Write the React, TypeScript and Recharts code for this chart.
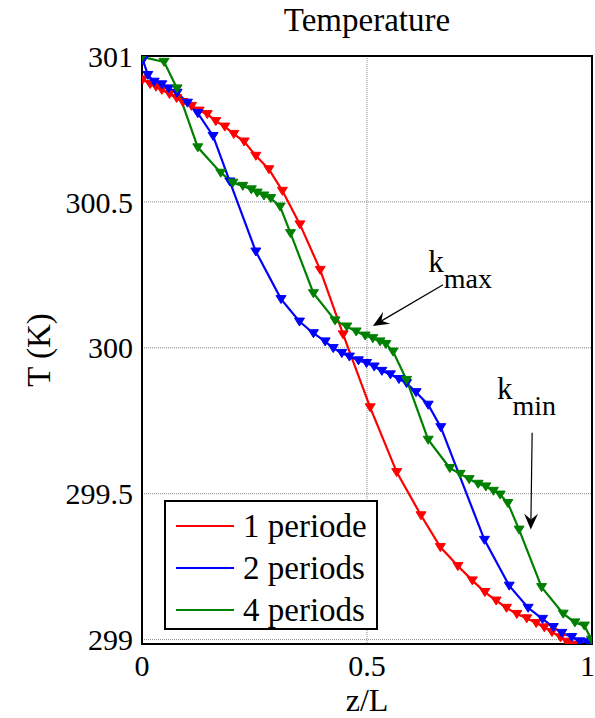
import React from 'react';
import {
  LineChart, Line, XAxis, YAxis, CartesianGrid, Legend,
  ReferenceLine, ReferenceDot, ReferenceArea,
} from 'recharts';

// positions along the channel (z/L) and temperatures (K)
const redZ = [0.002, 0.018, 0.031, 0.044, 0.061, 0.077, 0.091, 0.110, 0.127, 0.145, 0.164, 0.184, 0.204, 0.227, 0.253, 0.282, 0.312, 0.351, 0.396, 0.447, 0.507, 0.566, 0.620, 0.663, 0.702, 0.734, 0.762, 0.787, 0.810, 0.833, 0.855, 0.876, 0.894, 0.911, 0.930, 0.944, 0.958];
const redT = [300.920, 300.904, 300.895, 300.884, 300.870, 300.856, 300.842, 300.829, 300.813, 300.801, 300.777, 300.758, 300.733, 300.707, 300.658, 300.612, 300.538, 300.423, 300.267, 300.046, 299.796, 299.574, 299.426, 299.317, 299.252, 299.203, 299.163, 299.134, 299.109, 299.088, 299.073, 299.057, 299.042, 299.026, 299.008, 298.993, 298.983];

const blueZ = [0.002, 0.013, 0.027, 0.044, 0.059, 0.078, 0.101, 0.124, 0.158, 0.195, 0.253, 0.309, 0.350, 0.381, 0.407, 0.425, 0.444, 0.461, 0.481, 0.499, 0.516, 0.533, 0.552, 0.571, 0.588, 0.609, 0.636, 0.664, 0.761, 0.816, 0.858, 0.890, 0.914, 0.933, 0.955, 0.973, 0.992, 0.999];
const blueT = [300.986, 300.935, 300.912, 300.903, 300.889, 300.874, 300.840, 300.804, 300.726, 300.570, 300.330, 300.167, 300.090, 300.050, 300.022, 299.999, 299.982, 299.970, 299.957, 299.948, 299.936, 299.921, 299.909, 299.893, 299.879, 299.848, 299.805, 299.728, 299.342, 299.185, 299.109, 299.071, 299.043, 299.023, 299.009, 298.994, 298.991, 298.994];

const greenZ = [0.000, 0.049, 0.078, 0.124, 0.175, 0.202, 0.224, 0.243, 0.256, 0.271, 0.286, 0.307, 0.330, 0.381, 0.429, 0.455, 0.476, 0.496, 0.513, 0.529, 0.542, 0.558, 0.588, 0.636, 0.684, 0.707, 0.727, 0.747, 0.764, 0.781, 0.796, 0.813, 0.838, 0.888, 0.936, 0.962, 0.983, 0.999];
const greenT = [300.997, 300.980, 300.889, 300.687, 300.600, 300.566, 300.555, 300.543, 300.532, 300.522, 300.513, 300.484, 300.393, 300.187, 300.094, 300.073, 300.056, 300.042, 300.033, 300.022, 300.013, 299.987, 299.890, 299.685, 299.588, 299.568, 299.550, 299.534, 299.525, 299.510, 299.497, 299.468, 299.377, 299.180, 299.089, 299.059, 299.048, 299.000];

const xTicks = [0, 0.5, 1];
const yTicks = [299, 299.5, 300, 300.5, 301];
const seriesNames = ['1 periode', '2 periods', '4 periods'];
const seriesColors = ['#ff0000', '#0000ff', '#008000'];

const toRows = (zs: number[], ts: number[]) => zs.map((z, i) => ({ z, T: ts[i] }));
const series = [toRows(redZ, redT), toRows(blueZ, blueT), toRows(greenZ, greenT)];

const FONT = "'Liberation Serif', 'DejaVu Serif', 'Times New Roman', Times, serif";

const TriDot = (color: string) => (props: any) => {
  const { cx, cy, index } = props;
  if (cx == null || cy == null) return <g key={index} />;
  return (
    <polygon
      key={index}
      points={`${cx - 5},${cy - 3.5} ${cx + 5},${cy - 3.5} ${cx},${cy + 4.5}`}
      fill={color}
      stroke={color}
      strokeWidth={1}
    />
  );
};

const Arrow = (props: any) => {
  const { x1, y1, x2, y2 } = props;
  const ang = Math.atan2(y2 - y1, x2 - x1);
  const L = 16, W = 7, back = 10;
  const bx = x2 - Math.cos(ang) * L, by = y2 - Math.sin(ang) * L;
  const nx = -Math.sin(ang), ny = Math.cos(ang);
  const mx = x2 - Math.cos(ang) * back, my = y2 - Math.sin(ang) * back;
  return (
    <g>
      <line x1={x1} y1={y1} x2={mx} y2={my} stroke="#000" strokeWidth={1.2} />
      <polygon
        points={`${x2},${y2} ${bx + nx * W},${by + ny * W} ${mx},${my} ${bx - nx * W},${by - ny * W}`}
        fill="#000"
      />
    </g>
  );
};

const SubLabel = (main: string, sub: string) => (props: any) => {
  const { cx, cy } = props;
  return (
    <text x={cx} y={cy} style={{ fontFamily: FONT }} fontSize={31} fill="#000">
      {main}
      <tspan fontSize={28} dy={16}>{sub}</tspan>
    </text>
  );
};

const LegendBox = () => (
  <div
    style={{
      border: '2px solid #000',
      background: '#fff',
      width: 214,
      height: 130,
      boxSizing: 'border-box',
      padding: '3px 0 0 10px',
      fontFamily: FONT,
      fontSize: 33,
    }}
  >
    {seriesNames.map((name, i) => (
      <div key={name} style={{ display: 'flex', alignItems: 'center', height: 42 }}>
        <div style={{ width: 58, height: 2.5, background: seriesColors[i], marginRight: 9 }} />
        <span style={{ lineHeight: '42px' }}>{name}</span>
      </div>
    ))}
  </div>
);

export default function App() {
  return (
    <div style={{ position: 'absolute', left: 0, top: 0, width: 595, height: 718, background: '#fff', fontFamily: FONT }}>
      <div
        style={{
          position: 'absolute', left: 142, width: 450, top: 0, textAlign: 'center',
          fontFamily: FONT, fontSize: 33, lineHeight: '40px', zIndex: 2,
        }}
      >
        Temperature
      </div>
      <LineChart width={595} height={718} margin={{ top: 56, right: 3, left: 0, bottom: 0 }} style={{ fontFamily: FONT }}>
        <CartesianGrid stroke="#888" strokeDasharray="1 1" strokeWidth={1} />
        <XAxis
          type="number"
          dataKey="z"
          domain={[0, 1]}
          ticks={xTicks}
          tickFormatter={(v) => String(v)}
          allowDataOverflow
          height={74}
          tickLine={false}
          axisLine={false}
          tickSize={0}
          tickMargin={11}
          tick={{ fill: '#000', fontSize: 30, style: { fontFamily: FONT } }}
          label={{ value: 'z/L', position: 'insideBottom', offset: 7, fill: '#000', fontSize: 32, style: { fontFamily: FONT } }}
        />
        <YAxis
          type="number"
          domain={[298.985, 301]}
          ticks={yTicks}
          tickFormatter={(v) => String(v)}
          allowDataOverflow
          width={142}
          tickLine={false}
          axisLine={false}
          tickSize={0}
          tickMargin={9}
          tick={{ fill: '#000', fontSize: 30, style: { fontFamily: FONT } }}
          label={{
            value: 'T (K)', angle: -90, position: 'insideLeft', offset: 38,
            fill: '#000', fontSize: 33, style: { textAnchor: 'middle', fontFamily: FONT },
          }}
        />
        <ReferenceArea x1={0} x2={1} y1={298.985} y2={301} fill="none" stroke="#000" strokeWidth={2} />
        {series.map((rows, i) => (
          <Line
            key={seriesNames[i]}
            data={rows}
            dataKey="T"
            name={seriesNames[i]}
            type="linear"
            stroke={seriesColors[i]}
            strokeWidth={2.2}
            dot={TriDot(seriesColors[i])}
            activeDot={false}
            isAnimationActive={false}
          />
        ))}
        <ReferenceLine
          segment={[{ x: 0.669, y: 300.216 }, { x: 0.513, y: 300.075 }]}
          shape={Arrow}
        />
        <ReferenceLine
          segment={[{ x: 0.867, y: 299.709 }, { x: 0.864, y: 299.377 }]}
          shape={Arrow}
        />
        <ReferenceDot x={0.636} y={300.26} r={0} shape={SubLabel('k', 'max')} />
        <ReferenceDot x={0.789} y={299.825} r={0} shape={SubLabel('k', 'min')} />
        <Legend
          layout="horizontal"
          verticalAlign="middle"
          align="center"
          content={() => <LegendBox />}
          wrapperStyle={{ position: 'absolute', left: 164, top: 500, width: 214, height: 130 }}
        />
      </LineChart>
    </div>
  );
}
